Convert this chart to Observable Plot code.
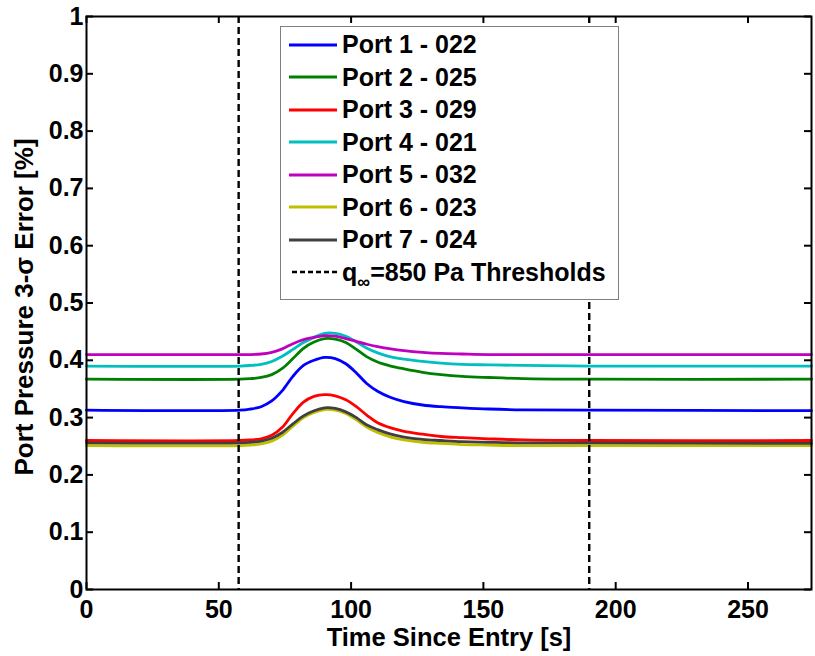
<!DOCTYPE html>
<html><head><meta charset="utf-8">
<script src="https://cdn.jsdelivr.net/npm/d3@7"></script>
<script src="https://cdn.jsdelivr.net/npm/@observablehq/plot@0.6"></script>
<style>
body{margin:0;background:#fff;}
#wrap{position:relative;width:815px;height:656px;}
#legend{position:absolute;left:280px;top:26px;width:339px;height:274px;box-sizing:border-box;border:1px solid #7f7f7f;background:#fff;font:bold 25px "Liberation Sans",Arial,sans-serif;padding-top:1.5px;color:#000;}
.row{display:flex;align-items:center;height:32.5px;white-space:nowrap;}
.row svg{margin-left:8px;margin-right:5px;flex:none;}
</style></head><body><div id="wrap"></div>
<script>
const ports = ["Port 1 - 022","Port 2 - 025","Port 3 - 029","Port 4 - 021","Port 5 - 032","Port 6 - 023","Port 7 - 024"];
const colors = ["#0000ff","#008000","#ff0000","#00bfbf","#bf00bf","#bfbf00","#404040"];
const times = [0, 58, 62, 66, 70, 74, 78, 82, 86, 90, 94, 98, 102, 106, 110, 115, 120, 127, 134, 142, 152, 165, 190, 274];
const port1 = [.313,.313,.315,.319,.329,.347,.372,.391,.400,.405,.403,.394,.378,.359,.346,.335,.328,.322,.319,.317,.315,.3135,.313,.312];
const port2 = [.367,.367,.368,.370,.375,.386,.403,.421,.432,.438,.437,.431,.419,.406,.397,.390,.385,.379,.375,.372,.370,.368,.367,.367];
const port3 = [.260,.260,.261,.263,.269,.283,.307,.327,.337,.340,.338,.331,.319,.304,.291,.282,.276,.271,.267,.265,.263,.261,.260,.260];
const port4 = [.390,.390,.391,.393,.398,.407,.419,.431,.440,.447,.447,.442,.432,.421,.413,.406,.402,.398,.395,.393,.392,.391,.390,.390];
const port5 = [.410,.410,.410,.411,.414,.420,.429,.436,.440,.443,.442,.438,.433,.428,.424,.420,.417,.414,.412,.411,.410,.410,.410,.410];
const port6 = [.251,.251,.252,.254,.259,.269,.285,.300,.309,.314,.313,.307,.296,.283,.274,.266,.261,.257,.255,.253,.252,.251,.251,.251];
const port7 = [.256,.256,.257,.259,.264,.274,.289,.303,.312,.317,.316,.310,.300,.287,.279,.271,.266,.262,.260,.258,.257,.256,.256,.255];
const thresholds = [57.5, 190];
const thresholdLabel = "=850 Pa Thresholds";
const xTicks = [0, 50, 100, 150, 200, 250];
const xTickLabels = ["0","50","100","150","200","250"];
const yTicks = [0, 0.1, 0.2, 0.3, 0.4, 0.5, 0.6, 0.7, 0.8, 0.9, 1];
const yTickLabels = ["0","0.1","0.2","0.3","0.4","0.5","0.6","0.7","0.8","0.9","1"];
const xLabel = "Time Since Entry [s]";
const yLabel = "Port Pressure 3-\u03c3 Error [%]";

const series = [port1, port2, port3, port4, port5, port6, port7];
const data = [];
ports.forEach((p, i) => series[i].forEach((v, j) => data.push({port: p, t: times[j], v})));

const W = 815, H = 656, ML = 86, MR = 4, MT = 16, MB = 67, TL = 7;
const FW = W - ML - MR, FH = H - MT - MB;
const font = '"Liberation Sans", Arial, sans-serif';
const chart = Plot.plot({
  width: W, height: H,
  marginLeft: ML, marginRight: MR, marginTop: MT, marginBottom: MB,
  style: {fontFamily: font, fontSize: "25px", fontWeight: "bold", background: "white", color: "black", overflow: "visible"},
  x: {domain: [0, 274]},
  y: {domain: [0, 1]},
  color: {domain: ports, range: colors},
  marks: [
    Plot.line(data, {x: "t", y: "v", z: "port", stroke: "port", strokeWidth: 2.8, curve: "catmull-rom"}),
    Plot.ruleX(thresholds, {stroke: "black", strokeWidth: 2.4, strokeDasharray: "7,4"}),
    // inward ticks on all four sides
    Plot.tickX(xTicks, {x: d => d, insetTop: FH - TL, stroke: "black", strokeWidth: 2}),
    Plot.tickX(xTicks, {x: d => d, insetBottom: FH - TL, stroke: "black", strokeWidth: 2}),
    Plot.tickY(yTicks, {y: d => d, insetRight: FW - TL, stroke: "black", strokeWidth: 2}),
    Plot.tickY(yTicks, {y: d => d, insetLeft: FW - TL, stroke: "black", strokeWidth: 2}),
    Plot.axisX(xTicks, {tickSize: 0, tickPadding: 11, tickFormat: d => xTickLabels[xTicks.indexOf(d)], label: null}),
    Plot.axisY(yTicks, {tickSize: 0, tickPadding: 3, tickFormat: d => yTickLabels[yTicks.indexOf(d)], label: null}),
    Plot.frame({stroke: "black", strokeWidth: 2}),
    Plot.text([xLabel], {frameAnchor: "bottom", dy: 56, lineAnchor: "bottom", textAnchor: "middle", text: d => d, fontSize: 25.5}),
    Plot.text([yLabel], {frameAnchor: "left", rotate: -90, dx: -62, dy: 4, lineAnchor: "middle", textAnchor: "middle", text: d => d, fontSize: 26})
  ]
});
const wrap = document.getElementById("wrap");
wrap.appendChild(chart);

// legend overlay
const leg = document.createElement("div");
leg.id = "legend";
ports.forEach((p, i) => {
  const row = document.createElement("div");
  row.className = "row";
  row.innerHTML = `<svg width="48" height="6"><line x1="0" x2="48" y1="3" y2="3" stroke="${colors[i]}" stroke-width="3"/></svg><span>${p}</span>`;
  leg.appendChild(row);
});
const row = document.createElement("div");
row.className = "row";
row.innerHTML = `<svg width="48" height="6"><line x1="3" x2="48" y1="3" y2="3" stroke="#000" stroke-width="2.5" stroke-dasharray="5,3"/></svg><span>q<span style="font-size:18px;position:relative;top:7px">\u221e</span>${thresholdLabel}</span>`;
leg.appendChild(row);
wrap.appendChild(leg);
</script>
</body></html>
